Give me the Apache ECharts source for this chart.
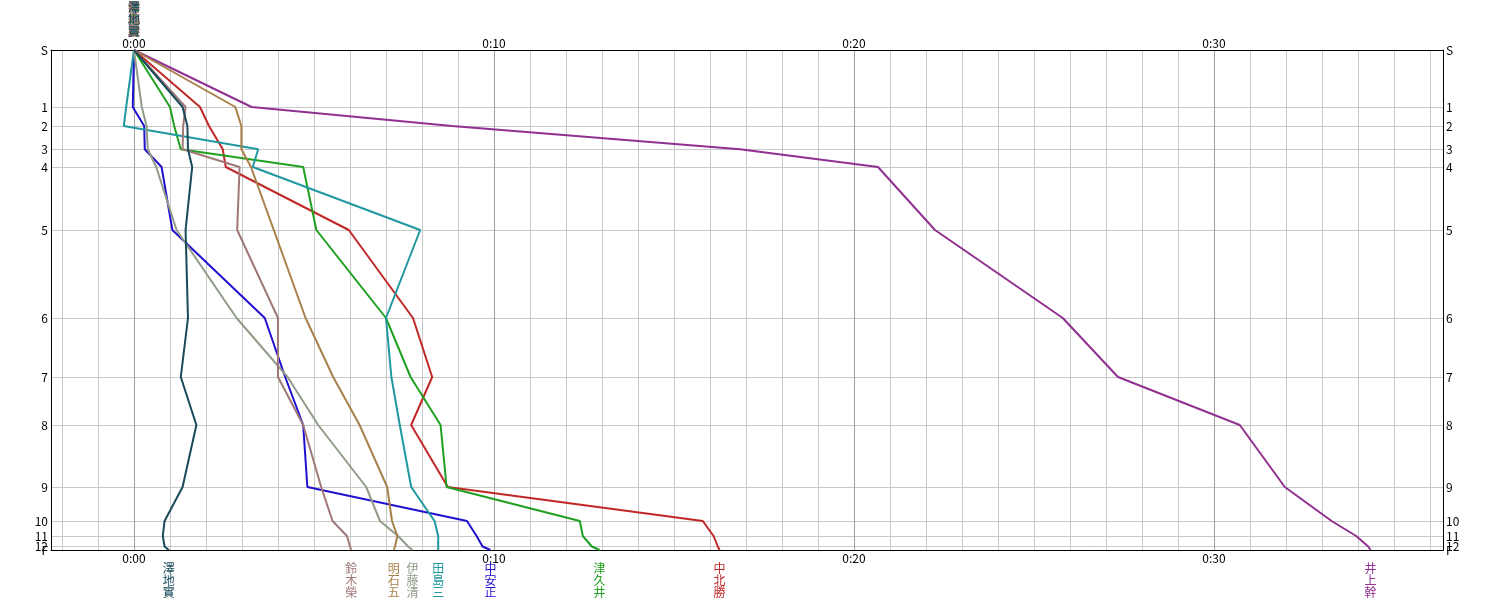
<!DOCTYPE html>
<html><head><meta charset="utf-8">
<script src="https://cdn.jsdelivr.net/npm/echarts@6/dist/echarts.min.js"></script>
<style>html,body{margin:0;padding:0;background:#fff}#c{width:1495px;height:600px}</style>
</head><body><div id="c"></div>
<script>
// checkpoints (top to bottom) and their relative course positions
const stations   = ['S','1','2','3','4','5','6','7','8','9','10','11','12','F'];
const stationPos = [0, 57, 76, 99.3, 117, 180, 268, 327, 375, 437, 471, 486, 496.5, 500];

// time gap (seconds) at each checkpoint
const tSawachi = [0, 81, 89, 90, 97, 86, 90, 78, 104, 81, 51, 48, 51, 58];
const tSuzuki  = [0, 86, 82, 81, 176, 172, 240, 240, 282, 312, 331, 355, 360, 362];
const tAkashi  = [0, 169, 179, 179, 195, 233, 286, 332, 376, 422, 430, 439, 435, 433];
const tIto     = [0, 13, 21, 23, 37, 71, 171, 256, 307, 387, 410, 440, 457, 464];
const tTajima  = [0, -13, -17, 207, 198, 477, 420, 429, 443, 462, 501, 507, 507, 507];
const tNakayasu= [0, -2, 17, 18, 46, 64, 218, 252, 282, 289, 555, 571, 581, 594];
const tTsukui  = [0, 60, 67, 78, 282, 304, 420, 461, 511, 521, 743, 748, 763, 776];
const tNakakita= [0, 110, 125, 148, 153, 358, 465, 497, 462, 523, 948, 966, 973, 976];
const tInoue   = [0, 196, 530, 1010, 1240, 1335, 1548, 1640, 1843, 1918, 1996, 2037, 2057, 2061];

const runnerNames = ['井上幹','中北勝','津久井','中安正','田島三','伊藤清','明石五','鈴木榮','澤地實'];
const runnerTimes = [tInoue, tNakakita, tTsukui, tNakayasu, tTajima, tIto, tAkashi, tSuzuki, tSawachi];
const runnerColors = ['#903090','#c02828','#20a020','#2010d0','#2098a0','#909c88','#a8804a','#a07878','#184a5a'];

const timeLabels = [0, 600, 1200, 1800];
const xMin = -138.3, xMax = 2181.7;
const minuteGrid = [];
for (let s = -120; s <= 2160; s += 60) minuteGrid.push(s);
const finishPos = [stationPos[stationPos.length - 1]];

function fmtTime(v) {
  const m = Math.round(v / 60);
  return Math.floor(m / 60) + ':' + String(m % 60).padStart(2, '0');
}
function fmtStation(v) {
  const i = stationPos.findIndex(p => Math.abs(p - v) < 0.01);
  return i >= 0 ? stations[i] : '';
}
const FONT = '"Noto Sans CJK JP", "DejaVu Sans", sans-serif';

const series = runnerNames.map((name, i) => {
  const col = runnerColors[i];
  const times = runnerTimes[i];
  const vert = name.split('').join('\n');
  return {
    type: 'line', name: name,
    symbol: 'circle', symbolSize: 0, showSymbol: true, showAllSymbol: true,
    clip: false, animation: false, silent: true,
    lineStyle: { color: col, width: 2 },
    itemStyle: { color: col },
    label: { show: false },
    emphasis: { disabled: true },
    data: times.map((t, j) => {
      const item = { value: [t, stationPos[j]] };
      if (j === 0) item.label = { show: true, position: 'top', distance: 13, formatter: vert,
        color: col, fontSize: 12, lineHeight: 12, fontFamily: FONT };
      if (j === times.length - 1) item.label = { show: true, position: 'bottom', distance: 12, formatter: vert,
        color: col, fontSize: 12, lineHeight: 12, fontFamily: FONT };
      return item;
    })
  };
});

const yLabel = { customValues: stationPos, formatter: fmtStation, color: '#000', fontSize: 12,
  margin: 3, fontFamily: FONT };
const fLabel = { customValues: finishPos, formatter: fmtStation, color: '#000', fontSize: 12,
  margin: 3, fontFamily: FONT, verticalAlign: 'middle', padding: [2, 0, 0, 0] };
function yAxisDef(pos, label, extra) {
  return Object.assign({ type: 'value', position: pos, inverse: true, min: 0, max: 500,
    axisLine: { show: true, onZero: false, lineStyle: { color: '#000', width: 1 } },
    axisTick: { show: false, customValues: stationPos },
    axisLabel: label, splitLine: { show: false } }, extra || {});
}

const chart = echarts.init(document.getElementById('c'));
chart.setOption({
  backgroundColor: '#fff',
  animation: false,
  grid: { left: 51, right: 52, top: 50, bottom: 50, containLabel: false },
  xAxis: [
    { type: 'value', position: 'bottom', min: xMin, max: xMax,
      axisLine: { show: true, onZero: false, lineStyle: { color: '#000', width: 1 } },
      axisTick: { show: false, customValues: minuteGrid },
      axisLabel: { customValues: timeLabels, formatter: fmtTime, color: '#000', fontSize: 12, margin: 2, fontFamily: FONT },
      splitLine: { show: true, lineStyle: { color: '#c8c8c8', width: 1 } } },
    { type: 'value', position: 'top', min: xMin, max: xMax,
      axisLine: { show: true, onZero: false, lineStyle: { color: '#000', width: 1 } },
      axisTick: { show: false, customValues: timeLabels },
      axisLabel: { customValues: timeLabels, formatter: fmtTime, color: '#000', fontSize: 12, margin: 1, fontFamily: FONT },
      splitLine: { show: true, lineStyle: { color: '#a0a0a0', width: 1 } } }
  ],
  yAxis: [
    yAxisDef('left', yLabel, { splitLine: { show: true, lineStyle: { color: '#c8c8c8', width: 1 } } }),
    yAxisDef('right', yLabel),
    yAxisDef('left', fLabel, { axisLine: { show: false }, axisTick: { show: false, customValues: finishPos } }),
    yAxisDef('right', fLabel, { axisLine: { show: false }, axisTick: { show: false, customValues: finishPos } })
  ],
  series: series
});
</script>
</body></html>
